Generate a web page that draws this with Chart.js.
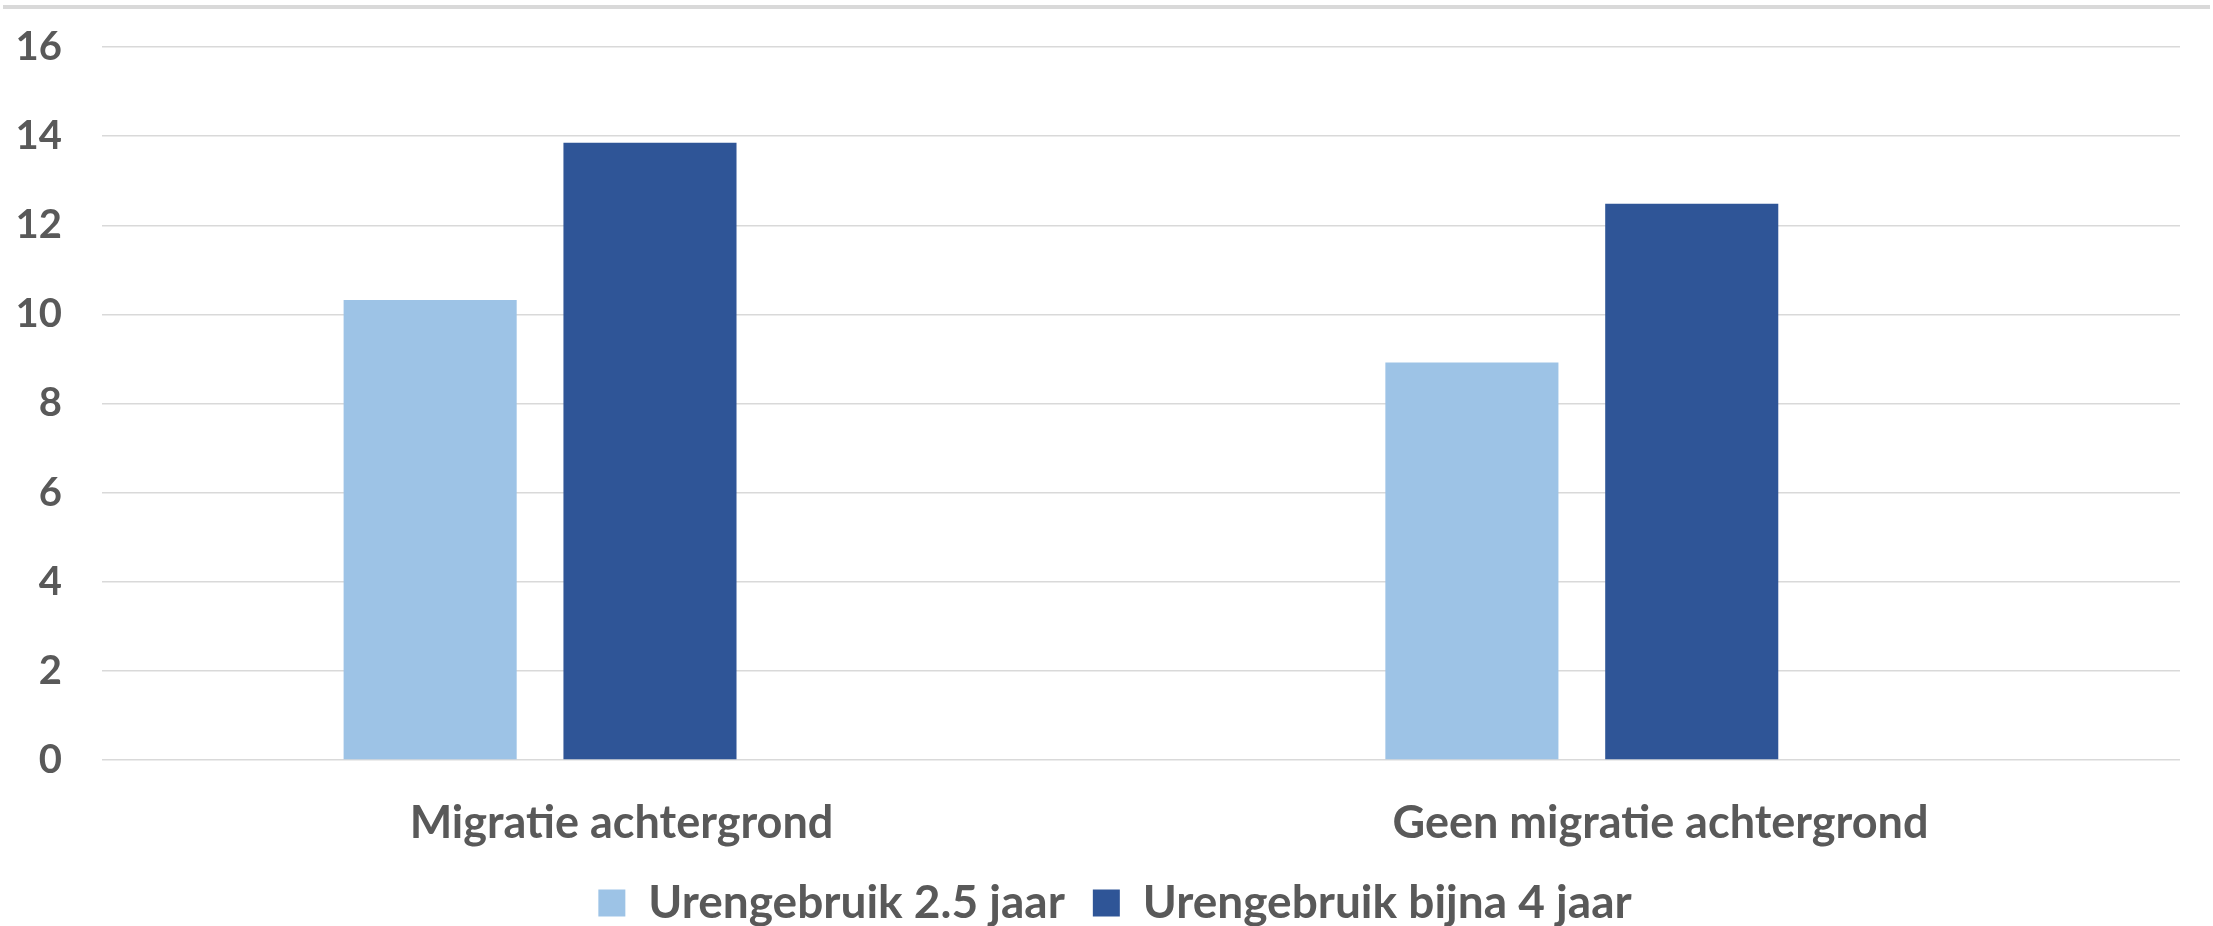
<!DOCTYPE html>
<html lang="nl">
<head>
<meta charset="utf-8">
<title>Urengebruik</title>
<script src="https://cdn.jsdelivr.net/npm/chart.js@4.4.1/dist/chart.umd.min.js"></script>
<style>
  html, body { margin: 0; padding: 0; background: #fff; overflow: hidden; }
  #wrap { position: relative; width: 2213px; height: 926px; overflow: hidden; }
  #grafiek { position: absolute; left: 0; top: 0; }
  /* grijze rand bovenaan, zoals in het origineel */
  #randBoven { position: absolute; left: 3px; top: 5px; width: 2207px; height: 4px; background: #d9d9d9; }
</style>
</head>
<body>
<div id="wrap">
  <canvas id="grafiek" width="2213" height="936"></canvas>
  <div id="randBoven"></div>
</div>
<script>
const categorieen = ["Migratie achtergrond", "Geen migratie achtergrond"];
const reeksNamen = ["Urengebruik 2.5 jaar", "Urengebruik bijna 4 jaar"];
const waarden25 = [10.32, 8.92];
const waardenBijna4 = [13.85, 12.48];
const yTicks = [0, 2, 4, 6, 8, 10, 12, 14, 16];

const tekstKleur = "#595959";
Chart.defaults.font.family = "Lato";

// de balken staan iets links van het midden van de categorie,
// daarom een verborgen lineaire as voor de balken
function punten(waarden) {
  return waarden.map((v, i) => ({ x: i, y: v }));
}

// legenda staat in het origineel iets rechts van het midden
const legendaSchuif = {
  id: "legendaSchuif",
  afterLayout(chart) {
    chart.legend.left += 50;
  }
};

const grafiek = new Chart(document.getElementById("grafiek"), {
  type: "bar",
  data: {
    datasets: [
      { label: reeksNamen[0], data: punten(waarden25), backgroundColor: "#9DC3E6", xAxisID: "xb" },
      { label: reeksNamen[1], data: punten(waardenBijna4), backgroundColor: "#2F5597", xAxisID: "xb" }
    ]
  },
  options: {
    responsive: false,
    animation: false,
    categoryPercentage: 0.4243,
    barPercentage: 0.7873,
    layout: { padding: { top: 47, right: 33, left: 0, bottom: 0 } },
    scales: {
      x: {
        type: "category",
        labels: categorieen,
        offset: true,
        afterFit: (as) => { as.height = 92; },
        grid: { display: false },
        border: { display: false },
        ticks: { color: tekstKleur, font: { size: 45, weight: "bold" }, padding: 28, maxRotation: 0 }
      },
      xb: {
        type: "linear",
        display: false,
        offset: false,
        bounds: "data",
        grace: 0,
        min: -0.4205,
        max: 1.5742,
        ticks: { stepSize: 1, includeBounds: false }
      },
      y: {
        min: yTicks[0],
        max: yTicks[yTicks.length - 1],
        afterBuildTicks: (as) => { as.ticks = yTicks.map(v => ({ value: v })); },
        afterFit: (as) => { as.width = 102; },
        grid: { color: "#d9d9d9", lineWidth: 1.5, drawTicks: true, tickLength: 40, tickColor: "rgba(0,0,0,0)" },
        border: { display: false },
        ticks: { color: tekstKleur, font: { size: 40, weight: "bold" }, padding: 0 }
      }
    },
    plugins: {
      tooltip: { enabled: false },
      legend: {
        position: "bottom",
        labels: {
          color: tekstKleur,
          font: { size: 46, weight: "bold" },
          boxWidth: 27,
          boxHeight: 27,
          padding: 28
        }
      }
    }
  },
  plugins: [legendaSchuif]
});
</script>
</body>
</html>
